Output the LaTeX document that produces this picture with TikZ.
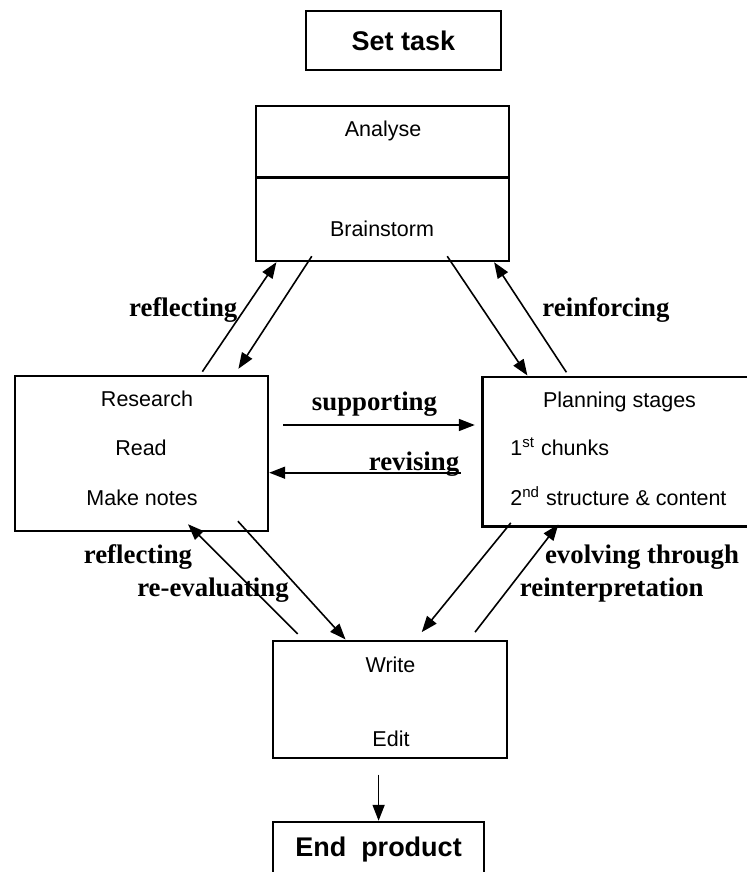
\documentclass[tikz,border=0pt]{standalone}
\usepackage{fontspec}
\setmainfont{Liberation Serif}
\setsansfont{Liberation Sans}
\usepackage{tikz}
\usetikzlibrary{arrows.meta, positioning}

\tikzset{
	box/.style={draw, line width=1.2pt, inner sep=0pt},
	boxtext/.style={font=\sffamily\fontsize{10.75}{13}\selectfont, anchor=base},
	endtext/.style={font=\sffamily\bfseries\fontsize{13.5}{16}\selectfont},
	tag/.style={font=\rmfamily\bfseries\fontsize{13.4}{16}\selectfont, anchor=base},
	flow/.style={-{Triangle[length=8pt,width=6pt]}, line width=0.8pt}
}

\begin{document}
\begin{tikzpicture}[x=0.5pt, y=-0.5pt]
		\useasboundingbox (0,0) rectangle (747,872);
		% Draw boxes
		\node[box, endtext, minimum width=97.5pt, minimum height=29.5pt] (settask) at (403.5,40.5) {Set task};
		\node[box, minimum width=126.35pt, minimum height=35.65pt] (analyse) at (382.35,141.65) {};
		\node[box, minimum width=126.35pt, minimum height=41.85pt] (brainstorm) at (382.35,219.15) {};
		\node[box, minimum width=126.4pt, minimum height=77.5pt] (research) at (141.6,453.5) {};
		\node[box, minimum width=138.8pt, minimum height=74.9pt] (planning) at (621.2,451.6) {};
		\node[box, minimum width=117.05pt, minimum height=58.65pt] (write) at (390,699.35) {};
		\node[box, endtext, minimum width=105.5pt, minimum height=28pt] (endprod) at (378.5,850) {End\ \ product};
		% Box texts
		\node[boxtext] (tanalyse) at (383,136.7) {Analyse};
		\node[boxtext] (tbrain) at (382,236.7) {Brainstorm};
		\node[boxtext] (tresearch) at (147,406.7) {Research};
		\node[boxtext] (tread) at (141,455.7) {Read};
		\node[boxtext] (tnotes) at (142,505) {Make notes};
		\node[boxtext] (tplanning) at (619.5,407.3) {Planning stages};
		\node[boxtext, anchor=base west] (tchunks) at (503.3,455.7) {1\textsuperscript{st} chunks};
		\node[boxtext, anchor=base west] (tstruct) at (503.3,505) {2\textsuperscript{nd} structure \& content};
		\node[boxtext] (twrite) at (390.5,672.3) {Write};
		\node[boxtext] (tedit) at (391,746) {Edit};
		% Arrows
		\draw[flow] ([xshift=30.4pt,yshift=1.6pt]research.north) -- ([xshift=10.8pt]brainstorm.south west);
		\draw[flow] ([xshift=28.5pt,yshift=3pt]brainstorm.south west) -- ([xshift=112.2pt,yshift=3pt]research.north west);
		\draw[flow] ([xshift=-31.35pt,yshift=3pt]brainstorm.south east) -- ([xshift=23.1pt]planning.north west);
		\draw[flow] ([xshift=42.6pt,yshift=1.6pt]planning.north west) -- ([xshift=-7.9pt]brainstorm.south east);
		\draw[flow] ([xshift=7pt,yshift=14.25pt]research.east) coordinate (s0) -- ([xshift=-3.2pt]s0 -| planning.west);
		\draw[flow] ([xshift=-10.2pt,yshift=-10.55pt]planning.west) coordinate (r0) -- (r0 -| research.east);
		\draw[flow] ([xshift=-15.65pt,yshift=5.5pt]research.south east) -- ([xshift=36.9pt]write.north west);
		\draw[flow] ([xshift=13pt,yshift=2.8pt]write.north west) -- ([xshift=23.2pt,yshift=4pt]research.south);
		\draw[flow] ([xshift=14.8pt,yshift=2.4pt]planning.south west) -- ([xshift=75pt,yshift=3.7pt]write.north west);
		\draw[flow] ([xshift=-16.6pt,yshift=3.7pt]write.north east) -- ([xshift=38.55pt,yshift=1.6pt]planning.south west);
		\draw[flow] ([xshift=-5.7pt,yshift=-7.65pt]write.south) coordinate (e0) -- (e0 |- endprod.north);
		% Label arrows
		\node[tag] (lreflect) at (183.3,316.7) {reflecting};
		\node[tag] (lreinforce) at (606,316.7) {reinforcing};
		\node[tag] (lsupport) at (374.5,410) {supporting};
		\node[tag] (lrevise) at (414,470) {revising};
		\node[tag] (lreflectb) at (138,563.3) {reflecting};
		\node[tag] (lreeval) at (213,596) {re-evaluating};
		\node[tag, anchor=base east] (levolve) at (746,563.3) {evolving through};
		\node[tag, anchor=base west] (lreinterp) at (512.9,596) {reinterpretation};
	\end{tikzpicture}
\end{document}
